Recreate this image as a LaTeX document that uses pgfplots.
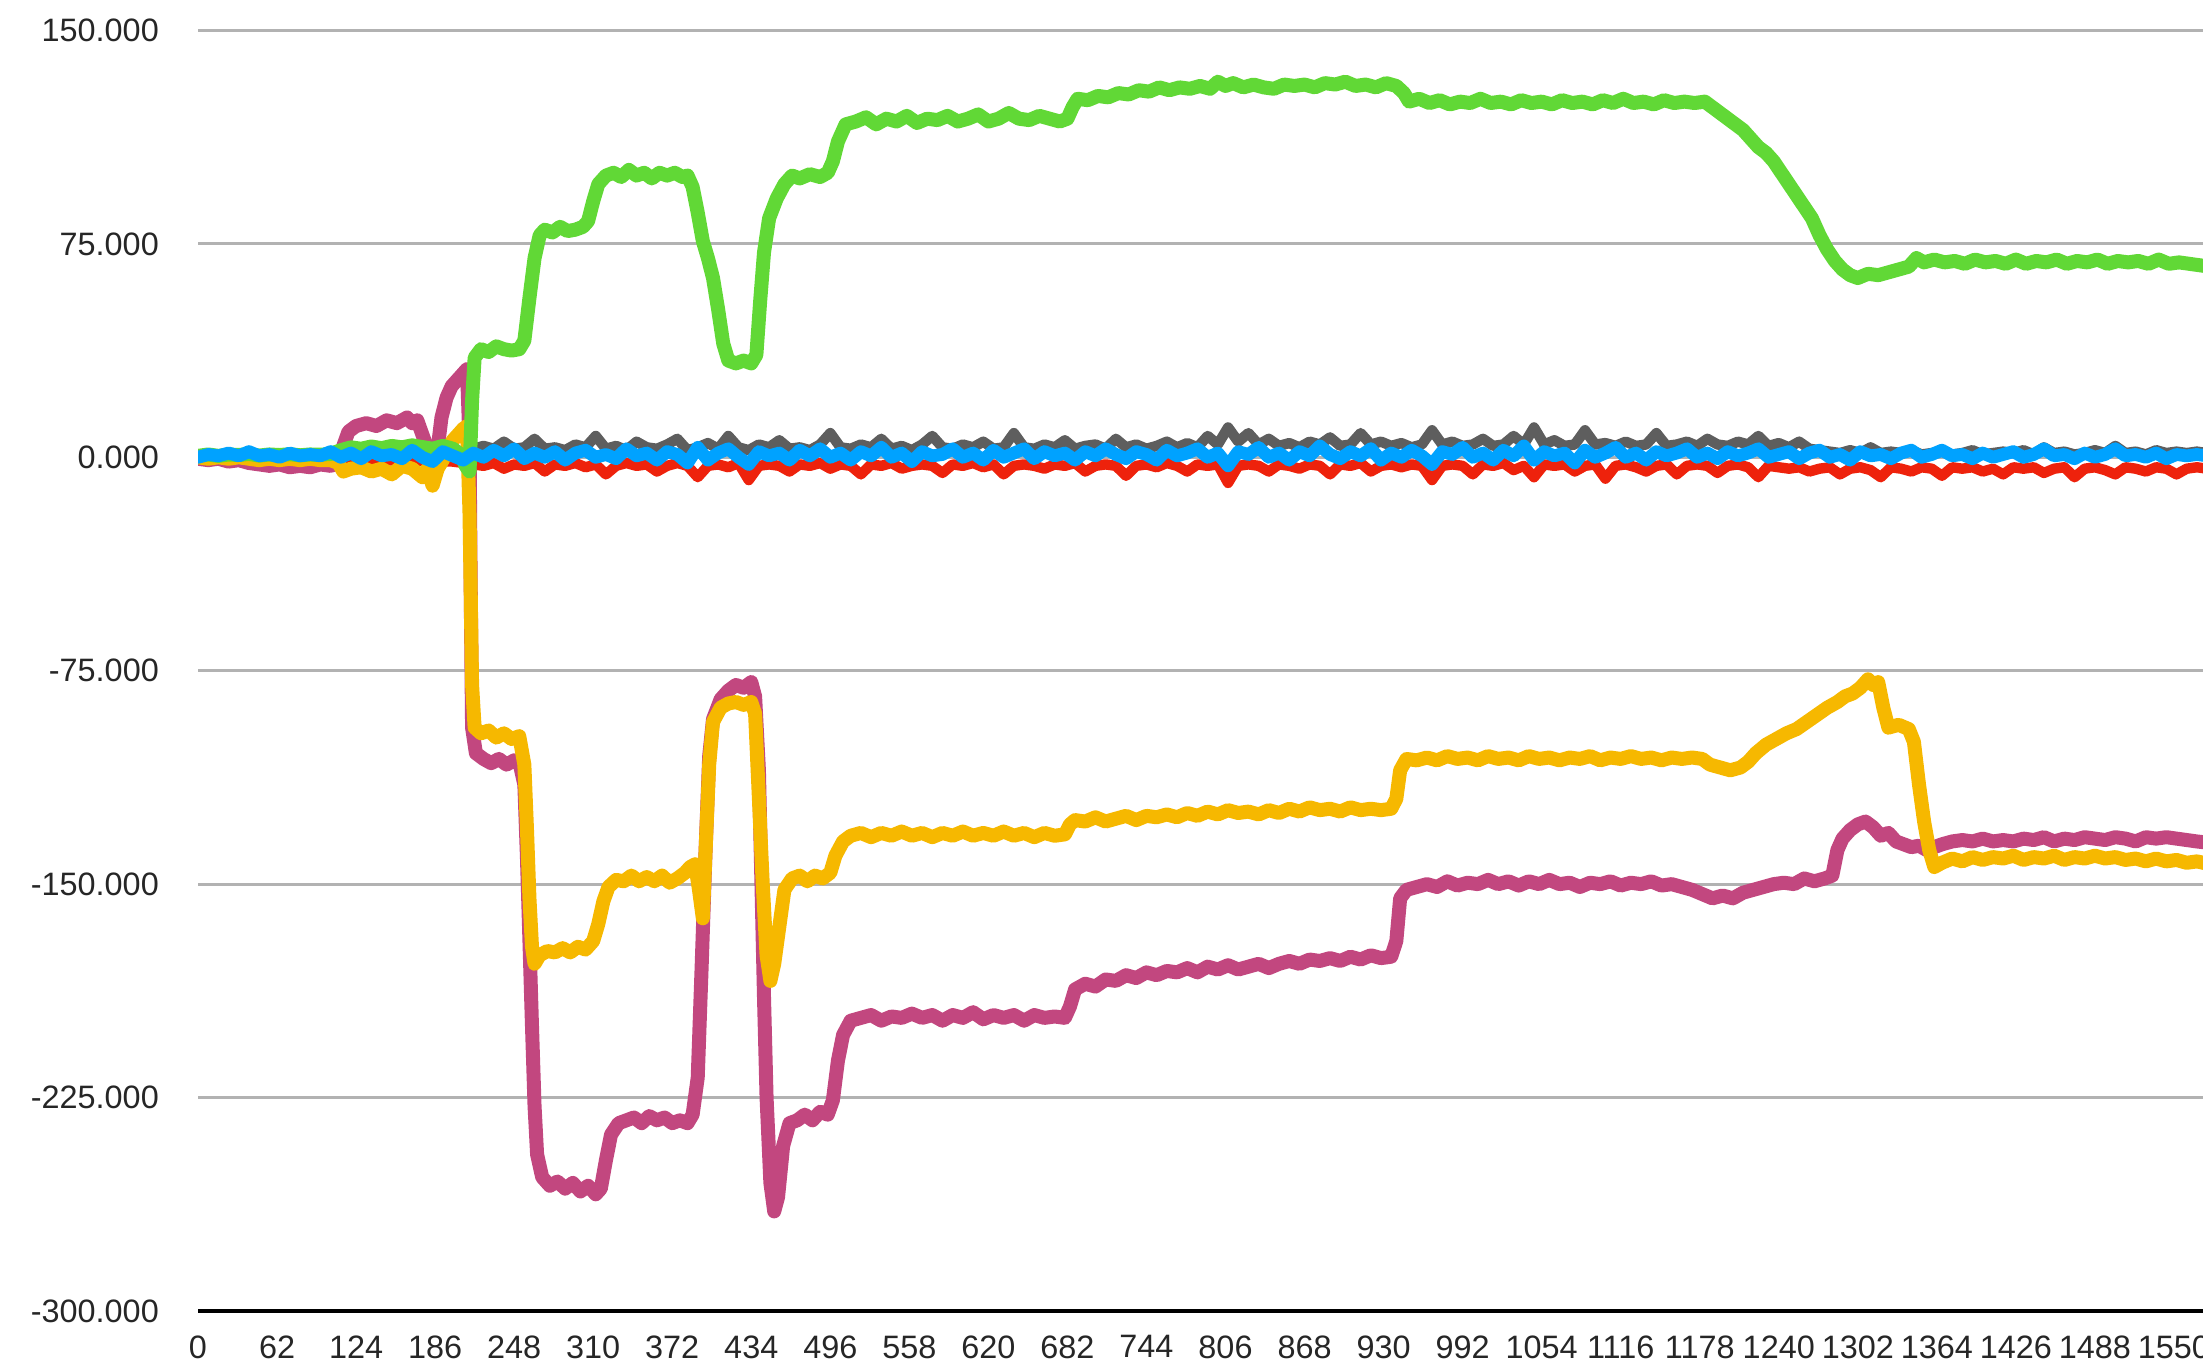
\documentclass[border=0pt]{standalone}
\usepackage{pgfplots}
\pgfplotsset{compat=1.18}
\usepackage{fontspec}
\setmainfont{Liberation Sans}
\definecolor{cgreen}{HTML}{61D836}
\definecolor{cmag}{HTML}{C2477F}
\definecolor{cyel}{HTML}{F6B800}
\definecolor{cblue}{HTML}{00A2FF}
\definecolor{cgray}{HTML}{5E5E5E}
\definecolor{cred}{HTML}{EE220C}
\begin{document}
\begin{tikzpicture}
\begin{axis}[
  scale only axis, width=501.25pt, height=320.125pt,
  xmin=0, xmax=1572.8, ymin=-300, ymax=150,
  axis x line*=bottom, axis y line*=left,
  x axis line style={black, line width=0.8pt, -},
  y axis line style={draw=none},
  major tick length=0pt,
  ytick={-300,-225,-150,-75,0,75,150},
  yticklabels={-300.000,-225.000,-150.000,-75.000,0.000,75.000,150.000},
  xtick={0,62,124,186,248,310,372,434,496,558,620,682,744,806,868,930,992,1054,1116,1178,1240,1302,1364,1426,1488,1550},
  xticklabels={0,62,124,186,248,310,372,434,496,558,620,682,744,806,868,930,992,1054,1116,1178,1240,1302,1364,1426,1488,1550},
  ymajorgrids, grid style={draw=black!30, line width=0.7pt},
  ticklabel style={font=\fontsize{8.1}{9.7}\selectfont, text=black!85},
  yticklabel style={anchor=east, inner sep=0pt, xshift=-9.6pt},
  xticklabel style={anchor=north, inner sep=0pt, yshift=-5.9pt},
  every axis plot/.append style={line join=round, line cap=round, mark=none},
]
% gray
\addplot[cgray, line width=2.6pt] coordinates {(0,0.5)(40,1)(80,0.5)(120,1)(160,0.5)(200,1)(208,2)(216,3)(224,4)(232,3)(240,5.5)(248,3)(256,3.5)(264,6.5)(272,3)(280,3.5)(288,2.5)(296,4.5)(304,3.5)(312,7.5)(320,3)(328,4)(336,2.5)(344,5.5)(352,3.5)(360,3)(368,4.5)(376,6.5)(384,2.5)(392,3.5)(400,5)(408,3)(416,7.5)(424,3.5)(432,2.5)(440,4.5)(448,3.5)(456,6)(464,3)(472,3.5)(480,2.5)(488,4.5)(496,8.5)(504,3.5)(512,3)(520,4.5)(528,3.5)(536,6.5)(544,3)(552,4)(560,2.5)(568,4.5)(576,7.5)(584,3.5)(592,3)(600,4.5)(608,3.5)(616,5.5)(624,3)(632,3.5)(640,8.5)(648,3.5)(656,3)(664,4.5)(672,3.5)(680,6)(688,3)(696,4)(704,4.5)(712,3)(720,6.5)(728,3.5)(736,4.5)(744,3)(752,4)(760,5.5)(768,3.5)(776,5)(784,3.5)(792,7.5)(800,4.5)(808,10.5)(816,5.5)(824,8.5)(832,4.5)(840,6.5)(848,4)(856,5)(864,3.5)(872,5.5)(880,4.5)(888,7)(896,4)(904,4.5)(912,8.5)(920,4.5)(928,5.5)(936,4)(944,5)(952,3.5)(960,4.5)(968,9.5)(976,4.5)(984,5.5)(992,4)(1000,4.5)(1008,6.5)(1016,4)(1024,4.5)(1032,7.5)(1040,4.5)(1048,10.5)(1056,4.5)(1064,6)(1072,4)(1080,4.5)(1088,9.5)(1096,4.5)(1104,5)(1112,4)(1120,5.5)(1128,4)(1136,4.5)(1144,8.5)(1152,4)(1160,4.5)(1168,5.5)(1176,4)(1184,6.5)(1192,4.5)(1200,4)(1208,5.5)(1216,4.5)(1224,7.5)(1232,4)(1240,5)(1248,3.5)(1256,5.5)(1264,3)(1272,2.5)(1280,2)(1288,1.5)(1296,2.5)(1304,1.5)(1312,3.5)(1320,1.5)(1328,2)(1336,1.5)(1344,2.5)(1352,1)(1360,1.5)(1368,2)(1376,1)(1384,1.5)(1392,2.5)(1400,1)(1408,1.5)(1416,2)(1424,1.5)(1432,2.5)(1440,1)(1448,3.5)(1456,1.5)(1464,2)(1472,1)(1480,1.5)(1488,2.5)(1496,1.5)(1504,4)(1512,1.5)(1520,2)(1528,1)(1536,2.5)(1544,1.5)(1552,2)(1560,1.5)(1568,2)(1576,1.5)};
% red
\addplot[cred, line width=2.6pt] coordinates {(0,-1)(40,-1.5)(80,-1)(120,-1.5)(160,-1)(200,-1.5)(208,-2)(216,-2.5)(224,-3)(232,-2)(240,-4)(248,-2.5)(256,-3)(264,-2)(272,-5)(280,-2.5)(288,-3)(296,-2)(304,-3.5)(312,-2.5)(320,-6)(328,-3)(336,-2)(344,-3)(352,-2.5)(360,-5)(368,-3)(376,-2)(384,-3)(392,-7)(400,-3)(408,-2.5)(416,-3.5)(424,-2)(432,-8)(440,-3)(448,-2.5)(456,-3)(464,-5)(472,-2.5)(480,-3)(488,-2)(496,-4)(504,-2.5)(512,-3)(520,-6)(528,-2.5)(536,-3)(544,-2)(552,-4)(560,-3)(568,-2.5)(576,-3)(584,-5.5)(592,-2.5)(600,-3)(608,-2)(616,-3.5)(624,-2.5)(632,-6)(640,-3)(648,-2.5)(656,-3)(664,-4)(672,-2.5)(680,-3)(688,-2)(696,-5)(704,-3)(712,-2.5)(720,-3)(728,-6.5)(736,-3)(744,-2.5)(752,-3.5)(760,-2)(768,-3)(776,-5)(784,-2.5)(792,-3)(800,-2.5)(808,-9)(816,-3)(824,-2.5)(832,-3)(840,-5)(848,-2.5)(856,-3)(864,-4)(872,-2.5)(880,-3)(888,-6)(896,-2.5)(904,-3)(912,-2)(920,-5)(928,-3)(936,-2.5)(944,-3.5)(952,-2.5)(960,-3)(968,-8)(976,-3)(984,-2.5)(992,-3)(1000,-6)(1008,-2.5)(1016,-3)(1024,-2)(1032,-4.5)(1040,-3)(1048,-7)(1056,-2.5)(1064,-3)(1072,-2.5)(1080,-5)(1088,-3)(1096,-2.5)(1104,-7.5)(1112,-3)(1120,-2.5)(1128,-3.5)(1136,-5)(1144,-3)(1152,-2.5)(1160,-6)(1168,-3)(1176,-2.5)(1184,-3)(1192,-5.5)(1200,-3)(1208,-2.5)(1216,-3.5)(1224,-7)(1232,-3)(1240,-3.5)(1248,-4)(1256,-3.5)(1264,-5)(1272,-4)(1280,-3.5)(1288,-6)(1296,-4)(1304,-3.5)(1312,-4.5)(1320,-7)(1328,-3.5)(1336,-4)(1344,-5)(1352,-3.5)(1360,-4)(1368,-6.5)(1376,-3.5)(1384,-4)(1392,-3.5)(1400,-5)(1408,-4)(1416,-6)(1424,-3.5)(1432,-4)(1440,-3.5)(1448,-5.5)(1456,-4)(1464,-3.5)(1472,-7)(1480,-4)(1488,-3.5)(1496,-4.5)(1504,-6)(1512,-3.5)(1520,-4)(1528,-5)(1536,-3.5)(1544,-4)(1552,-6)(1560,-4)(1568,-3.5)(1576,-4)};
% magenta
\addplot[cmag, line width=3.5pt] coordinates {(0,-0.5)(8,-1)(16,-0.5)(24,-1.5)(32,-1)(40,-2)(48,-2.5)(56,-3)(64,-2.5)(72,-3.5)(80,-3)(88,-3.5)(96,-2.5)(104,-3)(110,-2)(114,4)(118,9)(124,11)(132,12)(140,11)(148,13)(156,12)(164,14)(168,12)(172,13)(176,8)(180,3)(184,0)(188,3)(191,14)(195,21)(199,25)(203,27)(207,29)(211,31)(213,5)(214,-50)(215,-95)(218,-104)(224,-106)(230,-107.5)(236,-106)(242,-108)(248,-106.5)(252,-107)(256,-115)(258,-140)(260,-170)(262,-200)(264,-228)(266,-245)(270,-253)(276,-256)(282,-254.5)(288,-257)(294,-255)(300,-258)(306,-256)(312,-259)(316,-257)(320,-247)(324,-238)(330,-234)(336,-233)(342,-232)(348,-234)(354,-231.5)(360,-233)(366,-232)(372,-234)(378,-233)(384,-234)(388,-231)(392,-218)(395,-180)(398,-140)(401,-105)(404,-92)(410,-85)(416,-82)(422,-80)(428,-81)(434,-79)(437,-84)(440,-110)(442,-150)(444,-190)(446,-225)(449,-255)(452,-265)(455,-260)(459,-242)(464,-234)(470,-233)(476,-231)(482,-233)(488,-230)(494,-231)(498,-226)(502,-212)(506,-203)(512,-198)(520,-197)(528,-196)(536,-198)(544,-196.5)(552,-197)(560,-195.5)(568,-197)(576,-196)(584,-198)(592,-196)(600,-197)(608,-195)(616,-197.5)(624,-196)(632,-197)(640,-196)(648,-198)(656,-196)(664,-197)(672,-196.5)(680,-197)(684,-193)(688,-187)(696,-185)(704,-186)(712,-183.5)(720,-184)(728,-182)(736,-183)(744,-181)(752,-182)(760,-180.5)(768,-181)(776,-179.5)(784,-181)(792,-179)(800,-180)(808,-178.5)(816,-180)(824,-179)(832,-178)(840,-179.5)(848,-178)(856,-177)(864,-178)(872,-176.5)(880,-177)(888,-176)(896,-177)(904,-175.5)(912,-176.5)(920,-175)(928,-176)(936,-175.5)(940,-170)(943,-155)(948,-152)(956,-151)(964,-150)(972,-151)(980,-149)(988,-150.5)(996,-149.5)(1004,-150)(1012,-148.5)(1020,-150)(1028,-149)(1036,-150.5)(1044,-149)(1052,-150)(1060,-148.5)(1068,-150)(1076,-149.5)(1084,-151)(1092,-149.5)(1100,-150)(1108,-149)(1116,-150.5)(1124,-149.5)(1132,-150)(1140,-149)(1148,-150.5)(1156,-150)(1164,-151)(1172,-152)(1180,-153.5)(1188,-155)(1196,-154)(1204,-155)(1212,-153)(1220,-152)(1228,-151)(1236,-150)(1244,-149.5)(1252,-150)(1260,-148)(1268,-149)(1276,-148)(1282,-147)(1286,-138)(1290,-134)(1296,-131)(1302,-129)(1308,-128)(1314,-130)(1320,-133)(1326,-132)(1332,-135)(1338,-136)(1344,-137)(1350,-136.5)(1356,-138)(1362,-137)(1368,-136)(1376,-135)(1384,-134.5)(1392,-135)(1400,-134)(1408,-135)(1416,-134.5)(1424,-135)(1432,-134)(1440,-134.5)(1448,-133.5)(1456,-135)(1464,-134)(1472,-134.5)(1480,-133.5)(1488,-134)(1496,-134.5)(1504,-133.5)(1512,-134)(1520,-135)(1528,-133.5)(1536,-134)(1544,-133.5)(1552,-134)(1560,-134.5)(1568,-135)(1578,-135.5)};
% yellow
\addplot[cyel, line width=3.5pt] coordinates {(0,0)(8,-0.5)(16,0)(24,-0.5)(32,0)(40,-0.5)(48,-1)(56,-0.5)(64,-1)(72,-0.5)(80,-1)(88,-0.5)(96,-1)(104,-1)(110,-2)(114,-5)(120,-4)(128,-3.5)(136,-5)(144,-4)(152,-6)(160,-3)(168,-4)(176,-7)(180,-4)(184,-10)(188,-4)(192,-1)(196,3)(200,6)(204,8)(208,10)(211,11)(213,-20)(215,-80)(217,-95)(222,-97)(228,-96)(234,-98.5)(240,-97)(246,-99)(252,-98)(256,-108)(258,-130)(260,-155)(262,-172)(264,-178)(268,-175)(274,-173.5)(280,-174)(286,-172.5)(292,-174)(298,-172)(304,-173)(310,-170)(314,-164)(318,-156)(322,-151)(328,-148.5)(334,-149)(340,-147)(346,-149)(352,-147.5)(358,-149)(364,-147)(370,-149.5)(376,-148)(382,-146)(386,-144)(390,-143)(393,-152)(396,-162)(398,-140)(401,-108)(404,-93)(410,-88)(416,-86.5)(422,-86)(428,-87)(434,-86)(437,-90)(440,-120)(443,-150)(446,-175)(449,-184)(452,-178)(456,-165)(460,-152)(466,-148)(472,-147)(478,-149)(484,-147)(490,-148)(496,-146)(500,-140)(506,-135)(512,-133)(520,-132)(528,-133.5)(536,-132)(544,-133)(552,-131.5)(560,-133)(568,-132)(576,-133.5)(584,-132)(592,-133)(600,-131.5)(608,-133)(616,-132)(624,-133)(632,-131.5)(640,-133)(648,-132)(656,-133.5)(664,-132)(672,-133)(680,-132.5)(684,-129)(688,-127.5)(696,-128)(704,-126.5)(712,-128)(720,-127)(728,-126)(736,-127.5)(744,-126)(752,-126.5)(760,-125.5)(768,-126.5)(776,-125)(784,-126)(792,-124.5)(800,-125.5)(808,-124)(816,-125)(824,-124.5)(832,-125.5)(840,-124)(848,-125)(856,-123.5)(864,-124.5)(872,-123)(880,-124)(888,-123.5)(896,-124.5)(904,-123)(912,-124)(920,-123.5)(928,-124)(936,-123.5)(940,-120)(943,-110)(948,-106)(956,-106.5)(964,-105.5)(972,-106.5)(980,-105)(988,-106)(996,-105.5)(1004,-106.5)(1012,-105)(1020,-106)(1028,-105.5)(1036,-106.5)(1044,-105)(1052,-106)(1060,-105.5)(1068,-106.5)(1076,-105.5)(1084,-106)(1092,-105)(1100,-106.5)(1108,-105.5)(1116,-106)(1124,-105)(1132,-106)(1140,-105.5)(1148,-106.5)(1156,-105.5)(1164,-106)(1172,-105.5)(1180,-106)(1186,-108)(1194,-109)(1202,-110)(1210,-109)(1216,-107)(1222,-104)(1230,-101)(1238,-99)(1246,-97)(1254,-95.5)(1262,-93)(1270,-90.5)(1278,-88)(1286,-86)(1292,-84)(1298,-83)(1304,-81)(1310,-78)(1314,-80)(1318,-79)(1322,-88)(1326,-95)(1334,-94)(1342,-95.5)(1346,-100)(1350,-115)(1354,-128)(1358,-138)(1362,-144)(1368,-142.5)(1376,-141)(1384,-142)(1392,-140.5)(1400,-141.5)(1408,-140.5)(1416,-141)(1424,-140)(1432,-141.5)(1440,-140.5)(1448,-141)(1456,-140)(1464,-141.5)(1472,-140.5)(1480,-141)(1488,-140)(1496,-141)(1504,-140.5)(1512,-141.5)(1520,-141)(1528,-142)(1536,-141)(1544,-142)(1552,-141.5)(1560,-142.5)(1568,-142)(1578,-143)};
% green
\addplot[cgreen, line width=3.5pt] coordinates {(0,0.5)(8,1)(16,0.5)(24,1)(32,0.8)(40,1.2)(48,0.6)(56,1)(64,0.8)(72,1.1)(80,0.7)(88,1)(96,0.9)(104,1.2)(112,2.5)(120,3.5)(128,3)(136,3.8)(144,3.2)(152,4)(160,3.5)(168,4.2)(176,3.6)(184,3)(192,4)(200,3)(206,1)(210,-3)(213,-5)(215,20)(217,35)(222,38)(228,37)(234,39)(240,38)(246,37.5)(252,38)(256,41)(260,56)(264,70)(268,78)(272,80)(278,79)(284,81)(290,79.5)(296,80)(302,81)(306,83)(310,90)(314,96)(320,99)(326,100)(332,98.5)(338,101)(344,99)(350,100)(356,98)(362,100)(368,99)(374,100)(380,98.5)(384,99)(388,95)(392,86)(396,76)(400,70)(404,63)(408,52)(412,40)(416,34)(422,33)(428,34)(434,33)(438,36)(441,55)(444,72)(448,84)(454,91)(460,96)(466,99)(472,98)(480,99.5)(488,98.5)(494,100)(498,104)(502,111)(508,117)(516,118)(524,119.5)(532,117)(540,119)(548,118)(556,120)(564,117.5)(572,119)(580,118.5)(588,120)(596,118)(604,119)(612,120.5)(620,118)(628,119)(636,121)(644,119)(652,118.5)(660,120)(668,119)(676,118)(682,119)(686,123)(690,126)(698,125.5)(706,127)(714,126.5)(722,128)(730,127.5)(738,129)(746,128.5)(754,130)(762,129)(770,130)(778,129.5)(786,130.5)(794,129.5)(800,132)(806,130.5)(812,131.5)(820,130)(828,131)(836,130)(844,129.5)(852,131)(860,130.5)(868,131)(876,130)(884,131.5)(892,131)(900,132)(908,130.5)(916,131)(924,130)(932,131.5)(940,130.5)(946,128)(950,125)(958,126)(966,124.5)(974,125.5)(982,124)(990,125)(998,124.5)(1006,126)(1014,124.5)(1022,125)(1030,124)(1038,125.5)(1046,124.5)(1054,125)(1062,124)(1070,125.5)(1078,124.5)(1086,125)(1094,124)(1102,125.5)(1110,124.5)(1118,126)(1126,124.5)(1134,125)(1142,124)(1150,125.5)(1158,124.5)(1166,125)(1174,124.5)(1182,125)(1188,123)(1194,121)(1200,119)(1206,117)(1212,115)(1218,112)(1224,109)(1230,107)(1236,104)(1242,100)(1248,96)(1254,92)(1260,88)(1266,84)(1272,78)(1278,73)(1284,69)(1290,66)(1296,64)(1302,63)(1310,64.5)(1318,64)(1326,65)(1334,66)(1342,67)(1348,70)(1354,68.5)(1362,69.5)(1370,68.5)(1378,69)(1386,68)(1394,69.5)(1402,68.5)(1410,69)(1418,68)(1426,69.5)(1434,68)(1442,69)(1450,68.5)(1458,69.5)(1466,68)(1474,69)(1482,68.5)(1490,69.5)(1498,68)(1506,69)(1514,68.5)(1522,69)(1530,68)(1538,69.5)(1546,68)(1554,68.5)(1562,68)(1570,67.5)(1578,67)};
% blue
\addplot[cblue, line width=3.2pt] coordinates {(0,0)(8,1)(16,0.5)(24,1.5)(32,0.5)(40,2)(48,0.5)(56,1)(64,0)(72,1.5)(80,0.5)(88,1)(96,0.5)(104,2)(112,0)(120,1.5)(128,-0.5)(136,2)(144,0.5)(152,1)(160,-0.5)(168,2.5)(176,0)(184,-1.5)(192,2)(200,0.5)(208,-1)(216,1.5)(224,0)(232,2.5)(240,0.5)(248,3)(256,-0.5)(264,1.5)(272,0)(280,2)(288,-1)(296,1.5)(304,2.5)(312,0)(320,1)(328,-0.5)(336,3)(344,0.5)(352,1.5)(360,-1)(368,2)(376,1)(384,-2)(392,3.5)(400,-1)(408,1.5)(416,3)(424,0)(432,-2.5)(440,2)(448,0.5)(456,1.5)(464,-1)(472,2.5)(480,0.5)(488,3)(496,0)(504,1.5)(512,-1)(520,2)(528,0.5)(536,3.5)(544,0)(552,1.5)(560,-1.5)(568,2)(576,0.5)(584,1)(592,3)(600,0)(608,1.5)(616,-1)(624,2.5)(632,0)(640,1.5)(648,3)(656,-0.5)(664,2)(672,0.5)(680,1.5)(688,-1)(696,2)(704,0.5)(712,3)(720,1)(728,-0.5)(736,2)(744,1)(752,-1)(760,2.5)(768,0.5)(776,1.5)(784,3)(792,0)(800,1.5)(808,-3)(816,2)(824,1)(832,3.5)(840,0)(848,1.5)(856,-1)(864,2)(872,0.5)(880,4)(888,1)(896,-0.5)(904,2)(912,0.5)(920,3)(928,-1)(936,1.5)(944,0)(952,2.5)(960,0.5)(968,-2.5)(976,2)(984,1)(992,3.5)(1000,0)(1008,1.5)(1016,-1)(1024,2.5)(1032,0.5)(1040,4)(1048,-1)(1056,2)(1064,0.5)(1072,1.5)(1080,-2)(1088,2.5)(1096,0)(1104,1.5)(1112,3.5)(1120,0)(1128,1.5)(1136,-1)(1144,2)(1152,0.5)(1160,1.5)(1168,3)(1176,0)(1184,1.5)(1192,-0.5)(1200,2)(1208,0.5)(1216,1.5)(1224,3)(1232,0)(1240,1)(1248,2)(1256,-0.5)(1264,1.5)(1272,2.5)(1280,0)(1288,1)(1296,-1)(1304,2)(1312,0.5)(1320,1)(1328,-0.5)(1336,1.5)(1344,2.5)(1352,0)(1360,1)(1368,2.5)(1376,0.5)(1384,1)(1392,-0.5)(1400,1.5)(1408,0)(1416,1)(1424,2)(1432,0)(1440,1)(1448,3)(1456,0.5)(1464,1)(1472,-0.5)(1480,1.5)(1488,0)(1496,1)(1504,3)(1512,0.5)(1520,1)(1528,0)(1536,1.5)(1544,-0.5)(1552,1)(1560,0.5)(1568,1)(1576,0.5)};
\end{axis}
\pgfresetboundingbox
\path[use as bounding box] ([shift={(-49.5pt,-13pt)}]current axis.south west) rectangle ([shift={(0pt,7.625pt)}]current axis.north east);
\end{tikzpicture}
\end{document}
